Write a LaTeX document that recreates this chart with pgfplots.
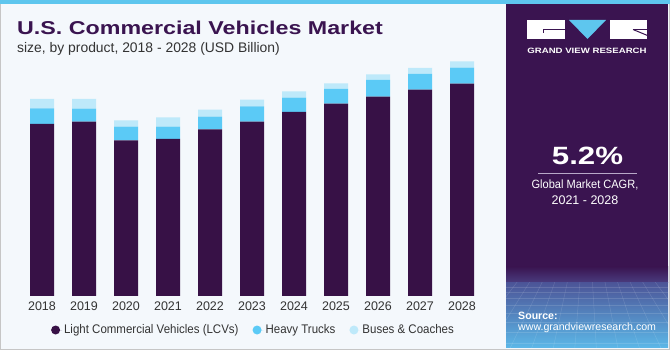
\documentclass[border=0pt]{standalone}
\usepackage{pgfplots}
\usepackage{pgfplotstable}
\pgfplotsset{compat=1.18}
\usepackage{fontspec}
\setmainfont{Liberation Sans}
\newfontfamily\titlefont[FakeStretch=1.25]{Liberation Sans}
\newfontfamily\narrowfont[FakeStretch=0.92]{Liberation Sans}
\definecolor{lcv}{HTML}{371146}
\definecolor{heavy}{HTML}{5BCAF6}
\definecolor{buses}{HTML}{BEE9FA}
\definecolor{panel}{HTML}{3A1450}
\definecolor{bg}{HTML}{F4F8FC}
\definecolor{strip}{HTML}{5EC6EE}
\definecolor{txt}{HTML}{333333}
\definecolor{gradA}{HTML}{4A3D80}
\definecolor{gradB}{HTML}{4C5598}
\definecolor{gradC}{HTML}{5CB8E8}
\definecolor{rule}{HTML}{B8A8C8}

\pgfplotstableread{
x lcv heavy buses
0 172.0 15.7 9.3
1 174.3 13.0 9.7
2 155.7 13.6 6.4
3 157.0 12.3 9.4
4 166.7 12.6 7.0
5 174.3 15.4 6.6
6 184.0 14.3 6.4
7 192.3 14.7 5.7
8 199.3 16.7 5.7
9 206.3 15.7 6.0
10 212.3 16.0 6.4
}\datatable

\begin{document}
\begin{tikzpicture}[x=1pt,y=1pt]
\useasboundingbox (0,0) rectangle (670,350);
\fill[bg] (0,0) rectangle (670,350);
% right panel
\fill[panel] (506,2) rectangle (668,346);
\shade[top color=panel, bottom color=gradA] (506,67) rectangle (668,83.5);
\shade[top color=gradB, bottom color=gradC] (506,2) rectangle (668,67);
\begin{scope}
\clip (506,2) rectangle (668,67);
\foreach \yy in {63,58,52,45,37,28,18,7}{
  \draw[white, opacity=0.13, line width=0.5pt] (506,\yy) -- (668,\yy);
}
\foreach \xx in {300,330,...,880}{
  \draw[white, opacity=0.13, line width=0.5pt] (587,160) -- (\xx,-60);
}
\end{scope}
% top strip and border
\fill[strip] (0,345.5) rectangle (670,350);
\draw[gray!45, line width=1.2pt] (0.6,345.5) -- (0.6,0.6) -- (669.4,0.6) -- (669.4,345.5);

% title
\node[anchor=base west, inner sep=0pt, text=panel] at (17,315)
  {\titlefont\bfseries\fontsize{18.6}{20}\selectfont U.S. Commercial Vehicles Market};
\node[anchor=base west, inner sep=0pt, text=txt] at (17,297)
  {\fontsize{13.9}{16}\selectfont size, by product, 2018 - 2028 (USD Billion)};

% logo
\fill[white] (527,311) rectangle (565,330);
\draw[panel, line width=1pt] (543,317) -- (543,320.5) -- (565.5,320.5);
\fill[strip] (569,330) -- (606,330) -- (587.5,311) -- cycle;
\fill[white] (610,311) rectangle (647,330);
\draw[panel, line width=1pt] (633,320.5) -- (647.5,320.5);
\draw[panel, line width=1pt] (633,320.5) -- (647.5,314.5);
\node[anchor=base, inner sep=0pt, text=white] at (587,296.7)
  {\titlefont\bfseries\fontsize{7.7}{9}\selectfont GRAND VIEW RESEARCH};

% CAGR
\node[anchor=base, inner sep=0pt, text=white] at (587.5,185)
  {\titlefont\bfseries\fontsize{25}{28}\selectfont 5.2\%};
\draw[rule, line width=0.8pt] (538,177) -- (637,177);
\node[anchor=base, inner sep=0pt, text=white] at (585,161)
  {\narrowfont\fontsize{12}{14}\selectfont Global Market CAGR,};
\node[anchor=base, inner sep=0pt, text=white] at (585,145)
  {\fontsize{12.5}{14}\selectfont 2021 - 2028};

% source
\node[anchor=base west, inner sep=0pt, text=white] at (518,30)
  {\bfseries\fontsize{10.6}{12}\selectfont Source:};
\node[anchor=base west, inner sep=0pt, text=white] at (518,19)
  {\fontsize{10.6}{12}\selectfont www.grandviewresearch.com};

\begin{axis}[
  at={(0,54)}, anchor=south west,
  x=42pt, y=1pt,
  xmin=-1, xmax=11, ymin=0, ymax=240,
  ybar stacked, bar width=24pt,
  axis line style={draw=none},
  tick style={draw=none},
  ytick=\empty,
  xtick={0,1,2,3,4,5,6,7,8,9,10},
  xticklabels={2018,2019,2020,2021,2022,2023,2024,2025,2026,2027,2028},
  xticklabel style={font=\fontsize{12.5}{14}\selectfont, text=txt, inner sep=0pt, yshift=-5.5pt},
  legend columns=3,
  legend style={draw=none, fill=none, inner sep=0pt,
    at={(0.101,-0.1417)}, anchor=west,
    font=\narrowfont\fontsize{12.5}{14}\selectfont, text=txt,
    /tikz/every even column/.append style={column sep=12pt}},
  legend image code/.code={\fill[#1, draw=none] (4.5pt,0pt) circle (4.5pt); \path (0pt,0pt) -- (11pt,0pt);},
]
\addplot[fill=lcv, draw=none] table[x=x, y=lcv] {\datatable};
\addplot[fill=heavy, draw=none] table[x=x, y=heavy] {\datatable};
\addplot[fill=buses, draw=none] table[x=x, y=buses] {\datatable};
\legend{Light Commercial Vehicles (LCVs), Heavy Trucks, Buses \& Coaches}
\end{axis}
\end{tikzpicture}
\end{document}
